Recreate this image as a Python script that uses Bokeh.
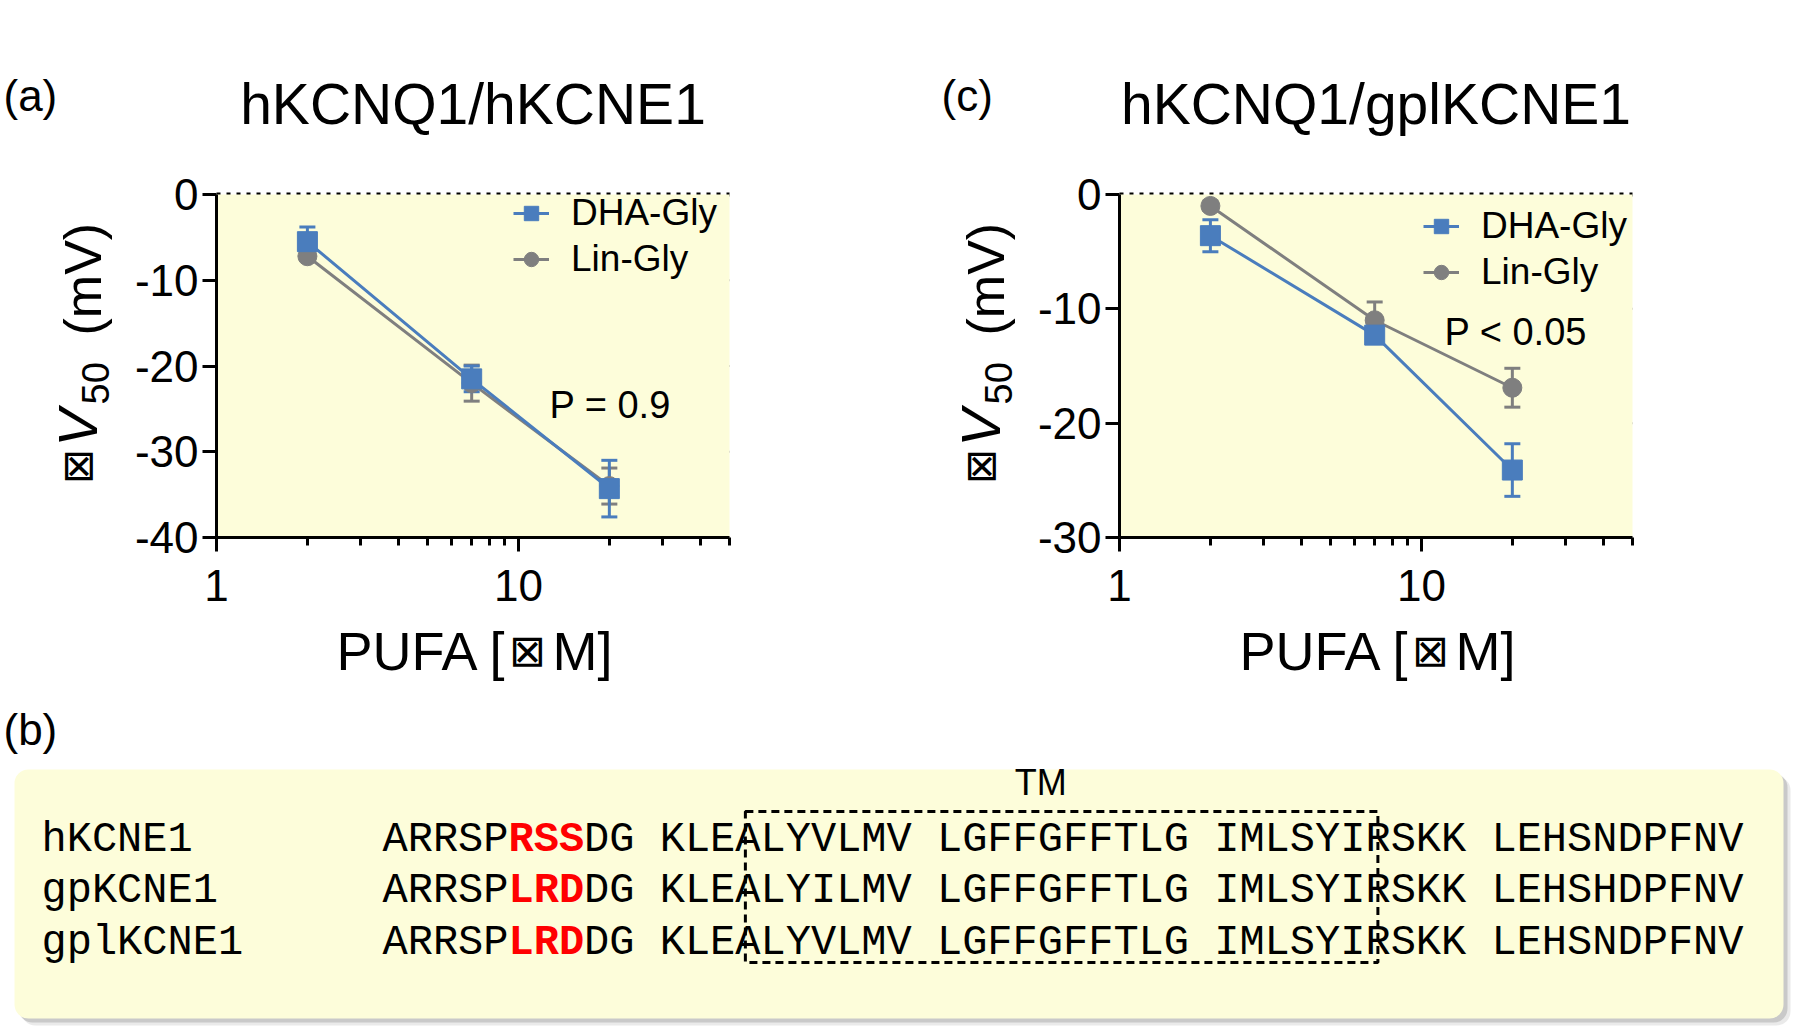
import math
from bokeh.plotting import figure
from bokeh.models import (Range1d, FixedTicker, PrintfTickFormatter, Whisker, TeeHead,
                          ColumnDataSource, Legend, LegendItem, Label, BoxAnnotation,
                          LinearAxis, LogAxis)
from bokeh.layouts import column, row
from bokeh.embed import file_html
from bokeh.resources import INLINE
from bokeh.core.properties import value

# ---------------- data ----------------
conc = [2, 7, 20]                       # PUFA concentration (uM)
series_names = ["DHA-Gly", "Lin-Gly"]

dha_a = [-5.5, -21.5, -34.3]
dha_a_err = [1.7, 1.5, 3.3]
lin_a = [-7.2, -22.0, -34.0]
lin_a_err = [0.5, 2.1, 2.1]

dha_c = [-3.6, -12.3, -24.1]
dha_c_err = [1.4, 0.6, 2.3]
lin_c = [-1.0, -11.0, -16.9]
lin_c_err = [0.4, 1.6, 1.7]

x_lim = (1, 50)
x_major = [1, 10]
x_minor = [2, 3, 4, 5, 6, 7, 8, 9, 20, 30, 40, 50]
y_ticks_a = [0, -10, -20, -30, -40]
y_ticks_c = [0, -10, -20, -30]
grid_a = [-10, -20, -30]
grid_c = [-10, -20]

title_a = "hKCNQ1/hKCNE1"
title_c = "hKCNQ1/gplKCNE1"
p_text_a = "P = 0.9"
p_text_c = "P < 0.05"

seq_names = ["hKCNE1", "gpKCNE1", "gplKCNE1"]
seqs = ["ARRSPRSSDG KLEALYVLMV LGFFGFFTLG IMLSYIRSKK LEHSNDPFNV",
        "ARRSPLRDDG KLEALYILMV LGFFGFFTLG IMLSYIRSKK LEHSHDPFNV",
        "ARRSPLRDDG KLEALYVLMV LGFFGFFTLG IMLSYIRSKK LEHSNDPFNV"]
hl_start, hl_end = 5, 8          # highlighted residues (red, bold)
tm_start, tm_end = 14.4, 39.5    # TM region in character positions

# ---------------- style ----------------
FONT = "Liberation Sans"
BLUE = "#4A7DBD"
GRAY = "#7F7F7F"
YEL = "#FDFDDA"
LOG50 = math.log10(x_lim[1])


def make_chart(W, fig_x0, fl, title, letter, letter_px, ymin, yticks, gticks,
               dha, dha_e, lin, lin_e, ptext, p_px, p_py, leg_px, leg_py_bottom):
    # fl: page x of the data-area left edge; data area 513 x 343 px, top at page y 194
    H, ft, fw, fh = 700, 194, 513, 343
    dec = fw / LOG50

    def X(px):
        return 10 ** ((px - fl) / dec)

    def Y(py):
        return ymin * (py - ft) / fh

    p = figure(width=W, height=H, x_axis_type="log", x_axis_location=None,
               y_axis_location=None, title=None,
               x_range=Range1d(X(fig_x0), X(fig_x0 + W)), y_range=Range1d(Y(H), Y(0)),
               min_border=0, output_backend="svg", toolbar_location=None,
               outline_line_color=None, background_fill_color="white",
               border_fill_color="white")
    p.grid.visible = False

    # yellow data area, grid lines, dotted zero line
    p.add_layout(BoxAnnotation(left=x_lim[0], right=x_lim[1], top=0, bottom=ymin,
                               fill_color=YEL, fill_alpha=1, line_color=None,
                               level="underlay"))
    n = len(gticks)
    p.segment(x0=[x_lim[0]] * n, x1=[x_lim[1]] * n, y0=gticks, y1=gticks,
              line_color="#8a8a8a", line_width=2, level="underlay")
    p.segment(x0=[x_lim[0]], x1=[x_lim[1]], y0=[0], y1=[0], line_color="black",
              line_width=4, line_dash="4 6", level="underlay")

    yax = LinearAxis(fixed_location=x_lim[0], bounds=(ymin, 0),
                     ticker=FixedTicker(ticks=yticks),
                     formatter=PrintfTickFormatter(format="%d"))
    xax = LogAxis(fixed_location=ymin, bounds=x_lim,
                  ticker=FixedTicker(ticks=x_major, minor_ticks=x_minor),
                  formatter=PrintfTickFormatter(format="%d"))
    for ax in (yax, xax):
        ax.axis_line_width = 3
        ax.axis_line_color = "black"
        ax.major_tick_line_width = 3
        ax.major_tick_line_color = "black"
        ax.major_tick_out = 14
        ax.major_tick_in = 0
        ax.minor_tick_line_width = 3
        ax.minor_tick_line_color = "black"
        ax.minor_tick_out = 8
        ax.minor_tick_in = 0
        ax.major_label_text_font = FONT
        ax.major_label_text_font_size = "44px"
        ax.major_label_text_color = "black"
    yax.minor_tick_line_color = None
    yax.major_label_standoff = 4
    xax.major_label_standoff = 18
    p.add_layout(yax, "left")
    p.add_layout(xax, "below")

    # Lin-Gly
    src_l = ColumnDataSource(dict(x=conc, y=lin,
                                  lo=[v - e for v, e in zip(lin, lin_e)],
                                  hi=[v + e for v, e in zip(lin, lin_e)]))
    p.add_layout(Whisker(base="x", upper="hi", lower="lo", source=src_l, dimension="height",
                         line_color=GRAY, line_width=3,
                         upper_head=TeeHead(size=16, line_color=GRAY, line_width=3),
                         lower_head=TeeHead(size=16, line_color=GRAY, line_width=3)))
    gl = p.line("x", "y", source=src_l, line_color=GRAY, line_width=3)
    gs = p.scatter("x", "y", source=src_l, marker="circle", size=19,
                   fill_color=GRAY, line_color=GRAY)

    # DHA-Gly
    src_d = ColumnDataSource(dict(x=conc, y=dha,
                                  lo=[v - e for v, e in zip(dha, dha_e)],
                                  hi=[v + e for v, e in zip(dha, dha_e)]))
    p.add_layout(Whisker(base="x", upper="hi", lower="lo", source=src_d, dimension="height",
                         line_color=BLUE, line_width=3,
                         upper_head=TeeHead(size=16, line_color=BLUE, line_width=3),
                         lower_head=TeeHead(size=16, line_color=BLUE, line_width=3)))
    dl = p.line("x", "y", source=src_d, line_color=BLUE, line_width=3)
    ds = p.scatter("x", "y", source=src_d, marker="square", size=20,
                   fill_color=BLUE, line_color=BLUE)

    leg = Legend(items=[LegendItem(label=series_names[0], renderers=[dl, ds]),
                        LegendItem(label=series_names[1], renderers=[gl, gs])],
                 location=(leg_px - fig_x0, H - leg_py_bottom),
                 background_fill_alpha=0, border_line_color=None,
                 padding=0, margin=0, spacing=2, glyph_width=36, glyph_height=44,
                 label_height=44, label_standoff=22, label_text_font=FONT,
                 label_text_font_size="37px", label_text_color="black")
    p.add_layout(leg)

    def lab(px, py, text, size, font=FONT, align="left", angle=0.0, style="normal"):
        p.add_layout(Label(x=X(px), y=Y(py), text=text, text_font=font,
                           text_font_size=size, text_align=align,
                           text_baseline="middle", angle=angle,
                           text_font_style=style, text_color="black"))

    # title + panel letter
    lab(fl + fw / 2, 103, title, "57px", align="center")
    lab(letter_px, 95, letter, "44px")
    # p-value
    lab(p_px, p_py, ptext, "38px")
    # y label: ⊠ V50 (mV) (rotated, reading upwards)
    r = math.pi / 2
    lab(fl - 139, 466, "\u22a0", "42px", font="DejaVu Sans", align="center", angle=r)
    lab(fl - 139, 446, "V", "56px", angle=r, style="italic")
    lab(fl - 121, 404, "50", "38px", angle=r)
    lab(fl - 134, 335, "(mV)", "52px", angle=r)
    # x label: PUFA [⊠M]
    lab(fl + 120, 650, "PUFA [", "54px")
    lab(fl + 311, 650, "\u22a0", "44px", font="DejaVu Sans", align="center")
    lab(fl + 336, 650, "M]", "54px")
    return p


pa = make_chart(905, 0, 216, title_a, "(a)", 3, -40, y_ticks_a, grid_a,
                dha_a, dha_a_err, lin_a, lin_a_err, p_text_a, 549, 404, 513, 281)
pc = make_chart(895, 905, 1119, title_c, "(c)", 941, -30, y_ticks_c, grid_c,
                dha_c, dha_c_err, lin_c, lin_c_err, p_text_c, 1444, 331, 1423, 294)

# ---------------- sequence panel ----------------
SW, SH = 1800, 330
ps = figure(width=SW, height=SH, x_range=Range1d(0, SW), y_range=Range1d(SH, 0),
            x_axis_type=None, y_axis_type=None, min_border=0, output_backend="svg",
            toolbar_location=None, outline_line_color=None, title=None,
            background_fill_color="white", border_fill_color="white")
ps.grid.visible = False

for off, alpha in [(7, 0.18), (4, 0.35)]:
    ps.add_layout(BoxAnnotation(left=14 + off, right=1783 + off, top=69 + off, bottom=318 + off,
                                fill_color="#8c8c8c", fill_alpha=alpha, line_color=None,
                                border_radius=14, level="underlay"))
ps.add_layout(BoxAnnotation(left=14, right=1783, top=69, bottom=318, fill_color=YEL,
                            fill_alpha=1, line_color=None, border_radius=14, level="underlay"))

MONO = "Liberation Mono"
FS = 42
adv = 0.6 * FS
name_x, seq_x = 41, 382
row_y0, row_dy = 139, 51.5
rows_y = [row_y0 + i * row_dy for i in range(len(seqs))]

ps.text(x=[name_x] * len(seq_names), y=rows_y, text=seq_names, text_font=value(MONO),
        text_font_size=f"{FS}px", text_baseline="middle", text_color="black")
ps.text(x=[seq_x] * len(seqs), y=rows_y, text=[s[:hl_start] for s in seqs],
        text_font=value(MONO), text_font_size=f"{FS}px", text_baseline="middle",
        text_color="black")
ps.text(x=[seq_x + hl_start * adv] * len(seqs), y=rows_y,
        text=[s[hl_start:hl_end] for s in seqs], text_font=value(MONO),
        text_font_size=f"{FS}px", text_font_style="bold", text_baseline="middle",
        text_color="#FF0000")
ps.text(x=[seq_x + hl_end * adv] * len(seqs), y=rows_y, text=[s[hl_end:] for s in seqs],
        text_font=value(MONO), text_font_size=f"{FS}px", text_baseline="middle",
        text_color="black")

tm_left = seq_x + tm_start * adv
tm_right = seq_x + tm_end * adv
ps.add_layout(BoxAnnotation(left=tm_left, right=tm_right, top=111, bottom=262,
                            fill_color=None, fill_alpha=0, line_color="black",
                            line_alpha=1, line_width=3, line_dash="8 5"))
ps.text(x=[(tm_left + tm_right) / 2 - 21], y=[82], text=["TM"],
        text_font=value(FONT), text_font_size="36px", text_align="center",
        text_baseline="middle", text_color="black")
ps.text(x=[3], y=[29], text=["(b)"], text_font=value(FONT), text_font_size="44px",
        text_baseline="middle", text_color="black")

layout = column(row(pa, pc), ps)
open("out.html", "w").write(file_html(layout, INLINE))
